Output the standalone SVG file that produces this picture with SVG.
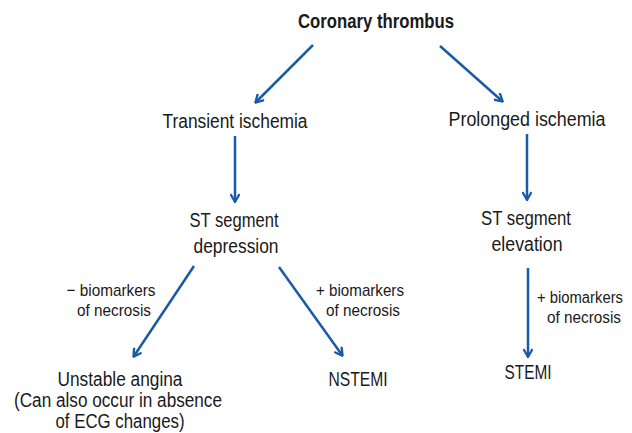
<svg xmlns="http://www.w3.org/2000/svg" width="632" height="433" viewBox="0 0 632 433">
<style>
text{font-family:"Liberation Sans",Arial,sans-serif;fill:#1a1a1a;text-anchor:middle}
.n{font-size:20px}
.s{font-size:17px}
.b{font-weight:bold}
.c{stroke:#1b5aa6;stroke-width:2.5;fill:none;marker-end:url(#ah)}
</style>
<defs>
<marker id="ah" markerWidth="10" markerHeight="10" viewBox="0 0 10 10" refX="8" refY="5" orient="auto" markerUnits="userSpaceOnUse">
<path d="M1,0.5 L9,5 L1,9.5" fill="none" stroke="#1b5aa6" stroke-width="2.3"/>
</marker>
</defs>
<g id="connectors">
<line class="c" x1="313" y1="45" x2="256" y2="102"/>
<line class="c" x1="440" y1="46" x2="502" y2="101"/>
<line class="c" x1="235" y1="136" x2="235" y2="201"/>
<line class="c" x1="527" y1="134" x2="527" y2="199"/>
<line class="c" x1="194" y1="266" x2="134" y2="356"/>
<line class="c" x1="279" y1="267" x2="342" y2="355"/>
<line class="c" x1="528" y1="268" x2="528" y2="356"/>
</g>
<g id="coronary"><text class="n b" x="376" y="28" textLength="156" lengthAdjust="spacingAndGlyphs">Coronary thrombus</text></g>
<g id="transient"><text class="n" x="235" y="128" textLength="145" lengthAdjust="spacingAndGlyphs">Transient ischemia</text></g>
<g id="prolonged"><text class="n" x="527" y="126" textLength="157" lengthAdjust="spacingAndGlyphs">Prolonged ischemia</text></g>
<g id="st-depression"><text class="n" x="234" y="227" textLength="89" lengthAdjust="spacingAndGlyphs">ST segment</text><text class="n" x="236" y="253" textLength="85" lengthAdjust="spacingAndGlyphs">depression</text></g>
<g id="st-elevation"><text class="n" x="526" y="225" textLength="90" lengthAdjust="spacingAndGlyphs">ST segment</text><text class="n" x="527" y="251" textLength="71" lengthAdjust="spacingAndGlyphs">elevation</text></g>
<g id="label-neg"><text class="s" x="111" y="296" textLength="89" lengthAdjust="spacingAndGlyphs">− biomarkers</text><text class="s" x="114" y="316" textLength="74" lengthAdjust="spacingAndGlyphs">of necrosis</text></g>
<g id="label-pos1"><text class="s" x="360" y="296" textLength="88" lengthAdjust="spacingAndGlyphs">+ biomarkers</text><text class="s" x="363" y="316" textLength="74" lengthAdjust="spacingAndGlyphs">of necrosis</text></g>
<g id="label-pos2"><text class="s" x="580" y="303" style="font-size:16px" textLength="86" lengthAdjust="spacingAndGlyphs">+ biomarkers</text><text class="s" x="584" y="323" textLength="74" lengthAdjust="spacingAndGlyphs">of necrosis</text></g>
<g id="unstable"><text class="n" x="120" y="386" textLength="125" lengthAdjust="spacingAndGlyphs">Unstable angina</text><text class="n" x="118" y="407" textLength="208" lengthAdjust="spacingAndGlyphs">(Can also occur in absence</text><text class="n" x="120" y="428" textLength="129" lengthAdjust="spacingAndGlyphs">of ECG changes)</text></g>
<g id="nstemi"><text class="n" x="358" y="386" textLength="59" lengthAdjust="spacingAndGlyphs">NSTEMI</text></g>
<g id="stemi"><text class="n" x="528" y="379" textLength="47" lengthAdjust="spacingAndGlyphs">STEMI</text></g>
</svg>
